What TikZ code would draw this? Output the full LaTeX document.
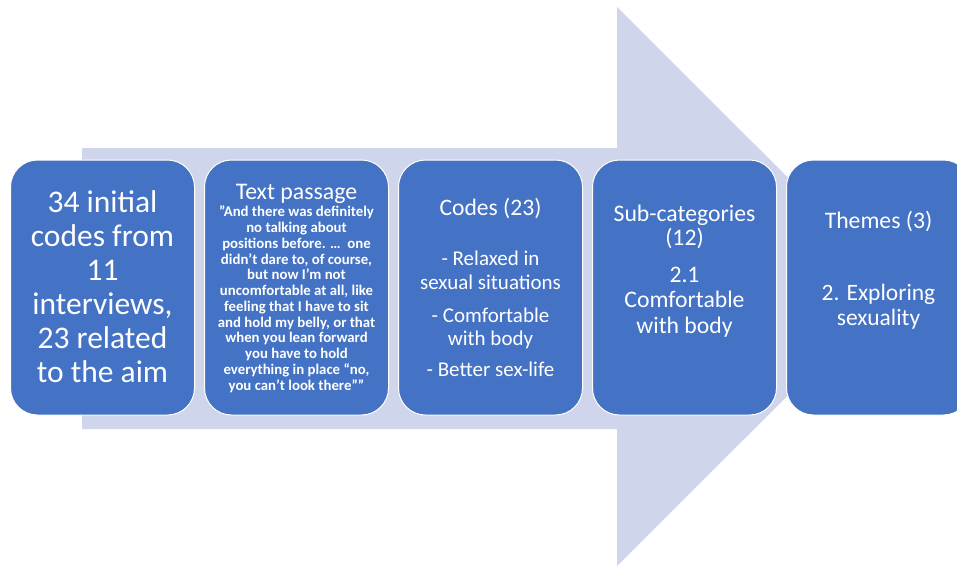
\documentclass[tikz,border=0pt]{standalone}
\usepackage{fontspec}
\setmainfont{Carlito}
\definecolor{boxblue}{HTML}{4472C4}
\definecolor{arrowfill}{HTML}{CFD5EA}
\begin{document}
\begin{tikzpicture}[x=1pt,y=-1pt,
  box/.style={draw=white, line width=1pt, fill=boxblue, rounded corners=27pt,
    minimum width=184pt, minimum height=255pt, inner sep=0pt},
  txt/.style={text=white, align=center, inner sep=0pt, anchor=base},
  fs/.style 2 args={font=\fontsize{#1}{#2}\selectfont}]
\useasboundingbox (0,0) rectangle (957,566);
\clip (0,0) rectangle (957,566);
% big arrow
\fill[arrowfill] (82,148) -- (617,148) -- (617,7) -- (897,286.5) -- (617,566) -- (617,429) -- (82,429) -- cycle;
% boxes
\node[box] (b1) at (102.5,287.5) {};
\node[box] (b2) at (296.5,287.5) {};
\node[box] (b3) at (490.5,287.5) {};
\node[box] (b4) at (684.5,287.5) {};
\node[box] (b5) at (878.5,287.5) {};
% texts (anchor = baseline of last line)
\node[txt, fs={31.5}{34}] (t1) at (102.5,382) {34 initial\\codes from\\11\\interviews,\\23 related\\to the aim};
\node[txt, fs={23.8}{26}] (t2a) at (296.5,199) {Text passage};
\node[txt, font=\bfseries\fontsize{14.8}{15.73}\selectfont] (t2b) at (296.5,390)
  {”And there was definitely\\no talking about\\positions before. …\ \ one\\didn’t dare to, of course,\\but now I’m not\\uncomfortable at all, like\\feeling that I have to sit\\and hold my belly, or that\\when you lean forward\\you have to hold\\everything in place “no,\\you can’t look there””};
\node[txt, fs={23.6}{26}] (t3a) at (490.5,215) {Codes (23)};
\node[txt, fs={21}{24}] (t3b) at (490.5,289) {- Relaxed in\\sexual situations};
\node[txt, fs={21}{23}] (t3c) at (490.5,345) {- Comfortable\\with body};
\node[txt, fs={21}{23}] (t3d) at (490.5,376) {- Better sex-life};
\node[txt, fs={23.7}{24}] (t4a) at (684.5,245) {Sub-categories\\(12)};
\node[txt, fs={23.7}{25.5}] (t4b) at (684.5,333) {2.1\\Comfortable\\with body};
\node[txt, fs={23.7}{25}] (t5a) at (878.5,228) {Themes (3)};
\node[txt, fs={23.5}{25}] (t5b) at (878.5,325) {2. Exploring\\sexuality};
\end{tikzpicture}
\end{document}
